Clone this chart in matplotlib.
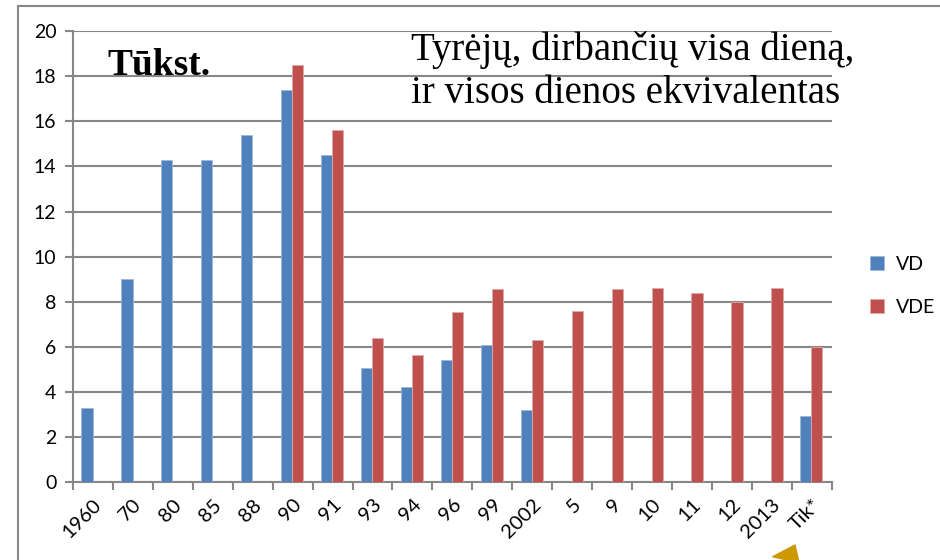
import numpy as np
import matplotlib
matplotlib.use('Agg')
import matplotlib.pyplot as plt
from matplotlib.lines import Line2D
from matplotlib.patches import FancyArrow

categories = ['1960', '70', '80', '85', '88', '90', '91', '93', '94', '96', '99',
              '2002', '5', '9', '10', '11', '12', '2013', 'Tik*']
vd = [3.3, 9.0, 14.3, 14.3, 15.4, 17.4, 14.5, 5.05, 4.2, 5.4, 6.1,
      3.2, np.nan, np.nan, np.nan, np.nan, np.nan, np.nan, 2.95]
vde = [np.nan, np.nan, np.nan, np.nan, np.nan, 18.5, 15.6, 6.4, 5.65, 7.55, 8.55,
       6.3, 7.6, 8.55, 8.6, 8.4, 8.0, 8.6, 6.0]

BLUE = '#4F81BD'
RED = '#C0504D'
GRID = '#878787'

plt.rcParams['font.family'] = ['Lato', 'DejaVu Sans']

fig = plt.figure(figsize=(9.4, 5.6), dpi=100)
ax = fig.add_axes([0.0777, 0.139, 0.807, 0.8054])

x = np.arange(len(categories))
w = 0.28
ax.bar(x - w / 2 - 0.01, vd, w, color=BLUE, edgecolor='#9fb8d9', linewidth=0.6, label='VD', zorder=3)
ax.bar(x + w / 2 - 0.01, vde, w, color=RED, edgecolor='#e0a8a6', linewidth=0.6, label='VDE', zorder=3)

ax.set_xlim(-0.5, len(categories) - 0.5)
ax.set_ylim(0, 20)
ax.set_yticks(range(0, 21, 2))
ax.yaxis.grid(True, color=GRID, linewidth=1.5, zorder=0)
ax.set_axisbelow(True)

ax.set_xticks(x)
ax.set_xticklabels(categories, rotation=45, ha='right', va='top', rotation_mode='anchor', fontsize=14.5)
ax.tick_params(axis='x', length=0, pad=10)
ax.set_xticks(np.arange(-0.5, len(categories)), minor=True)
ax.tick_params(axis='x', which='minor', length=6, width=1.5, color=GRID)
ax.tick_params(axis='y', length=6, width=1.5, color=GRID, labelsize=14, pad=6)

for s in ['top', 'right']:
    ax.spines[s].set_visible(False)
for s in ['left', 'bottom']:
    ax.spines[s].set_color(GRID)
    ax.spines[s].set_linewidth(1.5)

ax.text(0.046, 0.962, 'Tūkst.', transform=ax.transAxes, fontsize=27, fontweight='bold',
        family='Liberation Serif', va='top')
ax.text(0.446, 1.0, 'Tyrėjų, dirbančių visa dieną,\nir visos dienos ekvivalentas',
        transform=ax.transAxes, fontsize=28, family='Liberation Serif', va='top',
        linespacing=1.22)

ax.legend(loc='center left', bbox_to_anchor=(852 / 940, 1 - 286 / 560),
          bbox_transform=fig.transFigure, frameon=False,
          fontsize=14, handlelength=0.75, handleheight=0.75, handletextpad=0.6,
          labelspacing=1.35)

# outer chart border
fig.add_artist(Line2D([18 / 940, 18 / 940], [0, 1 - 6 / 560], transform=fig.transFigure,
                      color=GRID, linewidth=1.5))
fig.add_artist(Line2D([18 / 940, 1], [1 - 6 / 560, 1 - 6 / 560], transform=fig.transFigure,
                      color=GRID, linewidth=1.5))

# small arrow head at the bottom
fig.add_artist(FancyArrow(
    770 / 940, -25 / 560, 25 / 940, 40 / 560, width=0.004, head_width=0.03,
    head_length=0.028, color='#CC9900', transform=fig.transFigure,
    length_includes_head=True))

fig.savefig('out.png', dpi=100)
